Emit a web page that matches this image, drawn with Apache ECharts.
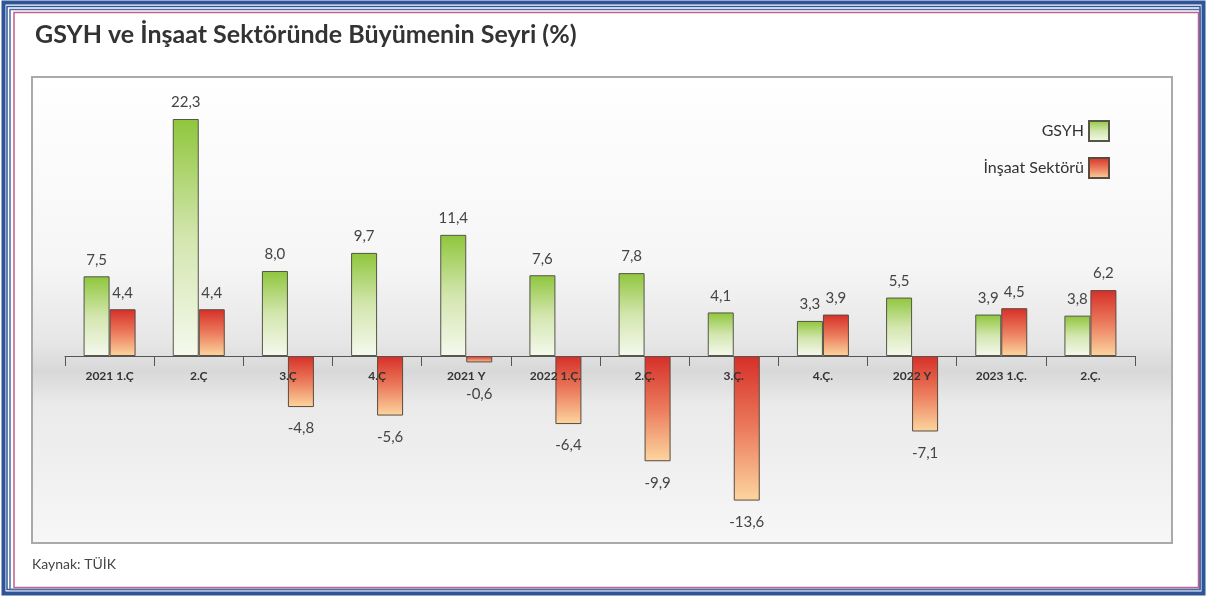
<!DOCTYPE html>
<html>
<head>
<meta charset="utf-8">
<script src="https://cdn.jsdelivr.net/npm/echarts@6/dist/echarts.min.js"></script>
<style>
html,body{margin:0;padding:0;background:#fff;}
#c{width:1206px;height:596px;}
</style>
</head>
<body>
<div id="c"></div>
<script>
const categories = ['2021 1.Ç','2.Ç','3.Ç','4.Ç','2021 Y','2022 1.Ç.','2.Ç.','3.Ç.','4.Ç.','2022 Y','2023 1.Ç.','2.Ç.'];
const gsyh = [7.5, 22.3, 8.0, 9.7, 11.4, 7.6, 7.8, 4.1, 3.3, 5.5, 3.9, 3.8];
const insaat = [4.4, 4.4, -4.8, -5.6, -0.6, -6.4, -9.9, -13.6, 3.9, -7.1, 4.5, 6.2];
const seriesNames = ['GSYH', 'İnşaat Sektörü'];
const titleText = 'GSYH ve İnşaat Sektöründe Büyümenin Seyri (%)';
const sourceText = 'Kaynak: TÜİK';

const FONT = 'Lato, "Open Sans", sans-serif';
const fmt = v => v.toFixed(1).replace('.', ',');

function grad(stops) {
  return new echarts.graphic.LinearGradient(0, 0, 0, 1, stops.map(c => ({offset: c[0], color: c[1]})));
}
const greenGrad = grad([[0, '#8fc63c'], [0.5, '#d3e6ae'], [1, '#f5f9ee']]);
const redGrad = grad([[0, '#d62f28'], [0.5, '#eb7b5c'], [1, '#fcd69e']]);

// negative labels sit below the bar; very short negative bars push the label below the axis text
function build(vals) {
  return vals.map(v => ({
    value: v,
    label: {
      position: v < 0 ? 'bottom' : 'top',
      distance: v >= 0 ? 9 : (v > -1 ? 24 : 14)
    }
  }));
}

const labelStyle = {
  show: true,
  fontSize: 15,
  color: '#444',
  fontFamily: FONT,
  formatter: p => fmt(p.value)
};

const chart = echarts.init(document.getElementById('c'), null, {renderer: 'canvas'});
chart.setOption({
  animation: false,
  backgroundColor: '#fff',
  title: {
    text: titleText,
    left: 30,
    top: 17,
    textStyle: {fontSize: 25, fontWeight: 'bold', color: '#333', fontFamily: FONT}
  },
  legend: {
    orient: 'vertical',
    right: 91,
    top: 115,
    align: 'right',
    icon: 'rect',
    itemWidth: 20,
    itemHeight: 20,
    itemGap: 15,
    textStyle: {fontSize: 16, color: '#333', fontFamily: FONT},
    data: seriesNames
  },
  grid: {left: 65, right: 71, top: 77, bottom: 53, containLabel: false},
  xAxis: {
    type: 'category',
    data: categories,
    position: 'bottom',
    offset: -187,
    z: 5,
    axisLine: {onZero: false, lineStyle: {color: '#555', width: 1}},
    axisTick: {show: true, length: 10, alignWithLabel: false, lineStyle: {color: '#555'}},
    axisLabel: {fontSize: 12, fontWeight: 'bold', color: '#333', fontFamily: FONT, margin: 14, interval: 0},
    splitLine: {show: false}
  },
  yAxis: {
    type: 'value',
    min: -17.59,
    max: 26.25,
    show: false,
    splitLine: {show: false}
  },
  graphic: [
    {type: 'rect', z: -10, shape: {x: 32, y: 77, width: 1140, height: 466},
      style: {fill: new echarts.graphic.LinearGradient(0, 0, 0, 1, [
        {offset: 0, color: '#ffffff'},
        {offset: 0.4, color: '#f6f6f6'},
        {offset: 0.57, color: '#e6e6e6'},
        {offset: 0.63, color: '#d8d8d8'},
        {offset: 0.7, color: '#eaeaea'},
        {offset: 1, color: '#f7f7f7'}
      ]), stroke: '#aaaaaa', lineWidth: 2}},
    {type: 'rect', z: -5, shape: {x: 3.5, y: 2.5, width: 1200, height: 591}, style: {fill: null, stroke: '#2e5597', lineWidth: 4}},
    {type: 'rect', z: -5, shape: {x: 7, y: 6.5, width: 1193, height: 583}, style: {fill: null, stroke: '#2e5597', lineWidth: 1.5}},
    {type: 'rect', z: -5, shape: {x: 10, y: 9.5, width: 1190, height: 580}, style: {fill: null, stroke: '#4a6aa8', lineWidth: 1.5}},
    {type: 'rect', z: -5, shape: {x: 14, y: 12.5, width: 1184.5, height: 575}, style: {fill: null, stroke: '#c0628e', lineWidth: 1.5}},
    {type: 'text', left: 32, top: 557, style: {text: sourceText, fontSize: 14, fill: '#444', fontFamily: FONT}}
  ],
  series: [
    {
      name: seriesNames[0],
      type: 'bar',
      data: build(gsyh),
      barWidth: 26,
      barGap: '0%',
      itemStyle: {color: greenGrad, borderColor: '#555548', borderWidth: 1},
      label: labelStyle
    },
    {
      name: seriesNames[1],
      type: 'bar',
      data: build(insaat),
      barWidth: 26,
      barGap: '0%',
      itemStyle: {color: redGrad, borderColor: '#5a4a40', borderWidth: 1},
      label: labelStyle
    }
  ]
});
</script>
</body>
</html>
